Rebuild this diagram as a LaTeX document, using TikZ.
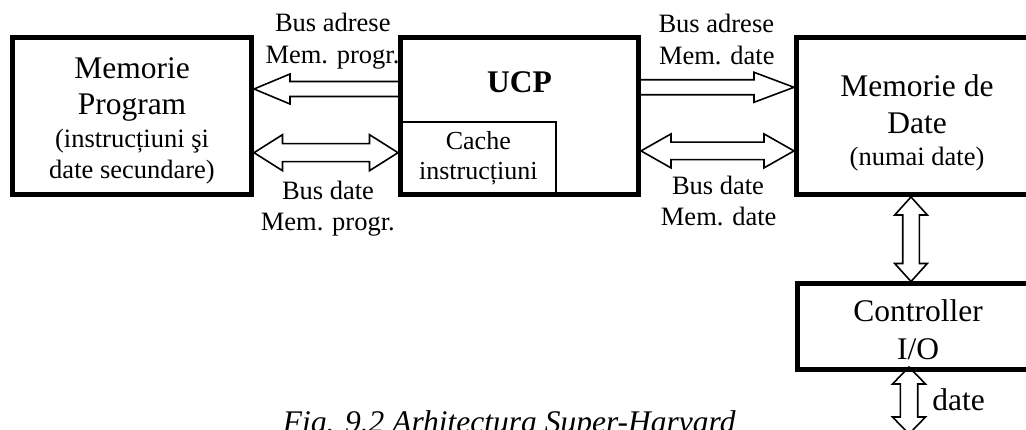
\documentclass[tikz,border=0pt]{standalone}
\usepackage{fontspec}
\setmainfont{Liberation Serif}
\usetikzlibrary{calc}

\tikzset{
  block/.style={draw, line width=5pt, rectangle, inner sep=0pt},
  thinblock/.style={draw, line width=1.3pt, rectangle, inner sep=0pt},
  bus/.style={draw, line width=1.6pt, line join=miter},
  big/.style={font=\fontsize{31.5}{37}\selectfont, inner sep=0pt, anchor=base},
  small/.style={font=\fontsize{26.5}{31}\selectfont, inner sep=0pt, anchor=base},
}

% single hollow arrow, horizontal: #1 tail, #2 tip, #3 half shaft, #4 half head, #5 signed head length
\newcommand\hbusone[5]{%
  \draw[bus] let \p1=#1, \p2=#2, \n1={#5} in
    ({\x1},{\y2+#3}) -- ({\x2-\n1},{\y2+#3}) -- ({\x2-\n1},{\y2+#4}) -- ({\x2},{\y2})
    -- ({\x2-\n1},{\y2-#4}) -- ({\x2-\n1},{\y2-#3}) -- ({\x1},{\y2-#3});}
% double hollow arrow, horizontal: #1 end A, #2 end B, #3 half shaft, #4 half head, #5 signed head length
\newcommand\hbustwo[5]{%
  \draw[bus] let \p1=#1, \p2=#2, \n1={#5} in
    ({\x1+\n1},{\y1+#3}) -- ({\x2-\n1},{\y1+#3}) -- ({\x2-\n1},{\y1+#4}) -- ({\x2},{\y1})
    -- ({\x2-\n1},{\y1-#4}) -- ({\x2-\n1},{\y1-#3}) -- ({\x1+\n1},{\y1-#3})
    -- ({\x1+\n1},{\y1-#4}) -- ({\x1},{\y1}) -- ({\x1+\n1},{\y1+#4}) -- cycle;}
% double hollow arrow, vertical
\newcommand\vbustwo[5]{%
  \draw[bus] let \p1=#1, \p2=#2, \n1={#5} in
    ({\x1+#3},{\y1+\n1}) -- ({\x1+#3},{\y2-\n1}) -- ({\x1+#4},{\y2-\n1}) -- ({\x1},{\y2})
    -- ({\x1-#4},{\y2-\n1}) -- ({\x1-#3},{\y2-\n1}) -- ({\x1-#3},{\y1+\n1})
    -- ({\x1-#4},{\y1+\n1}) -- ({\x1},{\y1}) -- ({\x1+#4},{\y1+\n1}) -- cycle;}

\begin{document}
\begin{tikzpicture}[x=1pt, y=-1pt]
\useasboundingbox (0,0) rectangle (1026,430);

% heights of the buses
\coordinate (yTL) at (0,89);
\coordinate (yBL) at (0,152.7);
\coordinate (yTR) at (0,87.3);
\coordinate (yBR) at (0,150.9);
\coordinate (xV1) at (911,0);
\coordinate (xV2) at (909,0);
\coordinate (ioend) at (909,434);
\coordinate (iostart) at (909,367);

% blocks
\node[thinblock, minimum width=155.5pt, minimum height=72.5pt] (cache) at (478.25,158.25) {};
\node[block, minimum width=239pt, minimum height=157pt] (mp) at (132,116) {};
\node[block, minimum width=238pt, minimum height=157pt] (ucp) at (519.5,116) {};
\node[block, minimum width=240.5pt, minimum height=157pt] (md) at (916.75,116) {};
\node[block, minimum width=240pt, minimum height=85.5pt] (ctl) at (917.5,326.75) {};

% buses
\hbusone{(ucp.west |- yTL)}{(mp.east |- yTL)}{7.5pt}{15pt}{-36pt}
\hbustwo{(mp.east |- yBL)}{(ucp.west |- yBL)}{9pt}{18pt}{28.5pt}
\hbusone{(ucp.east |- yTR)}{(md.west |- yTR)}{7.5pt}{15pt}{40pt}
\hbustwo{(ucp.east |- yBR)}{(md.west |- yBR)}{8.7pt}{17pt}{30pt}
\vbustwo{(md.south -| xV1)}{(ctl.north -| xV1)}{8.3pt}{16.3pt}{-18pt}
\vbustwo{(iostart)}{(ioend)}{8.7pt}{16.5pt}{-17pt}

% block outline redrawn over the bus ends
\node[block, minimum width=240pt, minimum height=85.5pt] (ctlb) at (917.5,326.75) {};

% block texts
\node[big] (mpa) at (132,78.3) {Memorie};
\node[big] (mpb) at (132,115) {Program};
\node[small] (mpc) at (132,147.7) {(instrucțiuni şi};
\node[small] (mpd) at (132,178.3) {date secundare)};

\node[big, font=\fontsize{31.5}{37}\selectfont\bfseries] (ucpa) at (519.5,92.7) {UCP};
\node[small, font=\fontsize{26}{31}\selectfont] (cachea) at (478.3,149.3) {Cache};
\node[small, font=\fontsize{26}{31}\selectfont] (cacheb) at (478.3,180) {instrucțiuni};

\node[big] (mda) at (917,96.7) {Memorie de};
\node[big] (mdb) at (917,133.3) {Date};
\node[small] (mdc) at (917,165.5) {(numai date)};

\node[big] (ctla) at (918,321.7) {Controller};
\node[big] (ctlc) at (918,360) {I/O};
\node[big] (iolab) at (958.5,410) {date};

% bus labels
\node[small] (ltl1) at (332.8,31.7) {Bus adrese};
\node[small] (ltl2) at (332.5,63.3) {Mem. progr.};
\node[small] (lbl1) at (328,199.2) {Bus date};
\node[small] (lbl2) at (327.8,230.3) {Mem. progr.};
\node[small] (ltr1) at (716.3,32.3) {Bus adrese};
\node[small] (ltr2) at (716.8,64.3) {Mem. date};
\node[small] (lbr1) at (718,195) {Bus date};
\node[small] (lbr2) at (718.7,225.7) {Mem. date};

% caption
\node[font=\fontsize{31.5}{37}\selectfont\itshape, inner sep=0pt, anchor=base west] (cap)
  at (282.7,432.5) {Fig. 9.2 Arhitectura Super-Harvard};
\end{tikzpicture}
\end{document}
